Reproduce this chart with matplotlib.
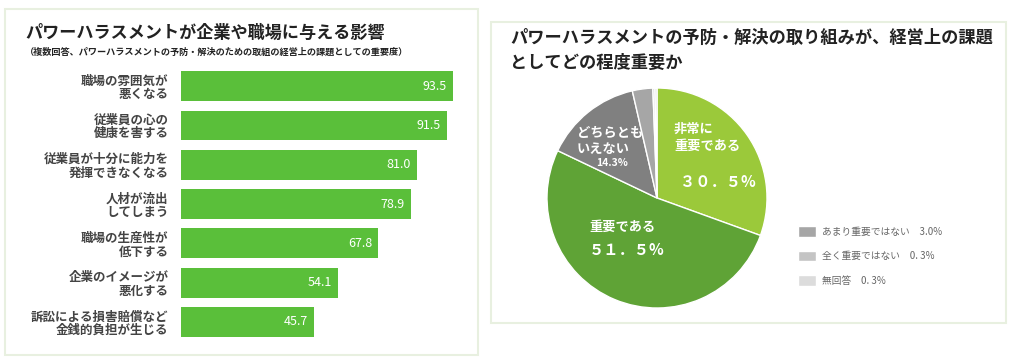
import matplotlib
matplotlib.use("Agg")
import matplotlib.pyplot as plt
from matplotlib.patches import Rectangle

plt.rcParams['font.family'] = ['Noto Sans CJK JP', 'DejaVu Sans']

# left chart: effects of power harassment (%)
bar_labels = [
    "職場の雰囲気が\n悪くなる",
    "従業員の心の\n健康を害する",
    "従業員が十分に能力を\n発揮できなくなる",
    "人材が流出\nしてしまう",
    "職場の生産性が\n低下する",
    "企業のイメージが\n悪化する",
    "訴訟による損害賠償など\n金銭的負担が生じる",
]
bar_values = [93.5, 91.5, 81.0, 78.9, 67.8, 54.1, 45.7]

# right chart: importance as a management issue (%)
pie_labels = ["非常に重要である", "重要である", "どちらともいえない",
              "あまり重要ではない", "全く重要ではない", "無回答"]
pie_values = [30.5, 51.5, 14.3, 3.0, 0.3, 0.3]
pie_colors = ["#9bc93a", "#5fa336", "#808080", "#a6a6a6", "#c4c4c4", "#dcdcdc"]
legend_texts = ["あまり重要ではない　3.0%", "全く重要ではない　0. 3%", "無回答　0. 3%"]

W, H = 1024, 363
fig = plt.figure(figsize=(W / 100, H / 100), dpi=100)
fig.patch.set_facecolor("white")


def px_box(x0, y0, x1, y1):
    # pixel box (top-left origin) -> figure fraction rect
    return [x0 / W, 1 - y1 / H, (x1 - x0) / W, (y1 - y0) / H]


# panel frames
for (x0, y0, x1, y1) in [(5, 9, 478, 355), (491, 22, 1006, 323)]:
    fig.patches.append(Rectangle((x0 / W, 1 - y1 / H), (x1 - x0) / W, (y1 - y0) / H,
                                 transform=fig.transFigure, fill=False,
                                 edgecolor="#e8f0e0", linewidth=1.5))

# ---- bar chart ----
fig.text(25 / W, 1 - 33 / H, "パワーハラスメントが企業や職場に与える影響",
         fontsize=12.3, fontweight="bold", color="#222222", va="center")
fig.text(25 / W, 1 - 52 / H,
         "（複数回答、パワーハラスメントの予防・解決のための取組の経営上の課題としての重要度）",
         fontsize=6.6, fontweight="bold", color="#222222", va="center")

ax = fig.add_axes(px_box(181, 66.5, 472, 341.5))
ypos = list(range(len(bar_values)))
ax.barh(ypos, bar_values, height=0.76, color="#5abf3a")
ax.set_xlim(0, 100)
ax.set_ylim(len(bar_values) - 0.5, -0.5)
ax.set_yticks(ypos)
ax.set_yticklabels(bar_labels, fontsize=9, fontweight="bold", color="#444444",
                   linespacing=1.05)
ax.tick_params(axis="y", length=0, pad=9)
ax.set_xticks([])
for s in ax.spines.values():
    s.set_visible(False)
for y, v in zip(ypos, bar_values):
    ax.text(v - 6.3, y, f"{v:.1f}", ha="center", va="center",
            color="white", fontsize=9)

# ---- pie chart ----
fig.text(510 / W, 1 - 38 / H, "パワーハラスメントの予防・解決の取り組みが、経営上の課題",
         fontsize=12.4, fontweight="bold", color="#222222", va="center")
fig.text(510 / W, 1 - 63 / H, "としてどの程度重要か",
         fontsize=12.4, fontweight="bold", color="#222222", va="center")

pax = fig.add_axes(px_box(547, 88, 767, 308))
wedges, _ = pax.pie(pie_values, colors=pie_colors, startangle=90, counterclock=False,
                    wedgeprops=dict(edgecolor="white", linewidth=1))
pax.set_xlim(-1, 1)
pax.set_ylim(-1, 1)
pax.set_aspect("equal")

pax.text(0.155, 0.55, "非常に\n重要である", ha="left", va="center", color="white",
         fontsize=9.5, fontweight="bold", linespacing=1.3)
pax.text(0.55, 0.145, "３０．５%", ha="center", va="center", color="white",
         fontsize=11, fontweight="bold")
pax.text(-0.31, -0.26, "重要である", ha="center", va="center", color="white",
         fontsize=9.5, fontweight="bold")
pax.text(-0.28, -0.47, "５１．５%", ha="center", va="center", color="white",
         fontsize=11, fontweight="bold")
pax.text(-0.73, 0.52, "どちらとも\nいえない", ha="left", va="center", color="white",
         fontsize=9.5, fontweight="bold", linespacing=1.2)
pax.text(-0.41, 0.32, "14.3%", ha="center", va="center", color="white",
         fontsize=7.5, fontweight="bold")

leg = fig.legend(wedges[3:], legend_texts, loc="upper left",
                 bbox_to_anchor=(798 / W, 1 - 226 / H), frameon=False,
                 fontsize=7, handlelength=1.8, handleheight=1.3,
                 handletextpad=0.7, labelspacing=1.45, borderpad=0, borderaxespad=0)
for t in leg.get_texts():
    t.set_color("#666666")

fig.savefig("out.png", dpi=100, facecolor="white")
